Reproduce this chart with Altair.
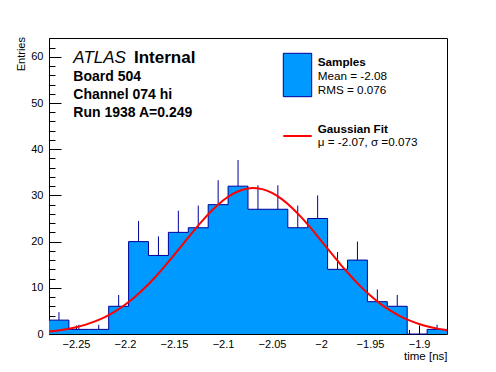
import altair as alt
import pandas as pd
import numpy as np

# ---------------- data ----------------
counts = [3, 1, 1, 6, 20, 17, 22, 23, 28, 32, 27, 27, 23, 25, 14, 16, 7, 6, 0, 1]
x_lo = -2.2775
x_hi = -1.8715
n_bins = 20
y_max = 64.07

curve_x = [-2.28, -2.27, -2.26, -2.25, -2.24, -2.23, -2.22, -2.21, -2.20, -2.19,
           -2.18, -2.17, -2.16, -2.15, -2.14, -2.13, -2.12, -2.11, -2.10, -2.09,
           -2.08, -2.07, -2.06, -2.05, -2.04, -2.03, -2.02, -2.01, -2.00, -1.99,
           -1.98, -1.97, -1.96, -1.95, -1.94, -1.93, -1.92, -1.91, -1.90, -1.89,
           -1.88, -1.87]
curve_y = [0.48, 0.71, 1.03, 1.46, 2.03, 2.78, 3.72, 4.89, 6.32, 8.00,
           9.95, 12.13, 14.53, 17.07, 19.69, 22.29, 24.75, 26.99, 28.88, 30.32,
           31.24, 31.60, 31.36, 30.55, 29.20, 27.40, 25.23, 22.80, 20.22, 17.59,
           15.03, 12.60, 10.36, 8.37, 6.63, 5.16, 3.94, 2.95, 2.17, 1.56,
           1.11, 0.77]

x_major = [-2.25, -2.2, -2.15, -2.1, -2.05, -2.0, -1.95, -1.9]
x_minor = [round(-2.27 + 0.01 * i, 2) for i in range(40)]
y_major = [0, 10, 20, 30, 40, 50, 60]
y_minor = list(range(0, 65, 2))

text_lines = ["Board 504", "Channel 074 hi", "Run 1938 A=0.249"]
legend_lines = ["Samples", "Mean = -2.08", "RMS = 0.076",
                "Gaussian Fit", "\u03bc = -2.07, \u03c3 =0.073"]

# ---------------- tables ----------------
edges = np.linspace(x_lo, x_hi, n_bins + 1)
hist = pd.DataFrame({"lo": edges[:-1], "hi": edges[1:], "count": counts})
hist["center"] = (hist["lo"] + hist["hi"]) / 2
step = pd.DataFrame({"edge": edges, "count": counts + [counts[-1]]})
curve = pd.DataFrame({"x": curve_x, "y": curve_y})
one = pd.DataFrame({"a": [0]})

W, H = 398, 296
FONT = "Liberation Sans"
FILL = "#0099ff"
EDGE = "#000099"

xs = alt.Scale(domain=[x_lo, x_hi], nice=False, zero=False, padding=0)
ys = alt.Scale(domain=[0, y_max], nice=False, zero=True, padding=0)

x_axis_main = alt.Axis(values=x_major, format=".3~g", ticks=False, domain=False,
                       grid=False, labelFont=FONT, labelFontSize=11,
                       labelColor="black", labelPadding=4, labelFlush=False,
                       title="time [ns]", titleFont=FONT, titleFontSize=11.5,
                       titleFontWeight="normal", titleColor="black",
                       titleAlign="right", titleX=W, titleY=25.5,
                       titleBaseline="alphabetic")
y_axis_main = alt.Axis(values=y_major, ticks=False, domain=False, grid=False,
                       labelFont=FONT, labelFontSize=11, labelColor="black",
                       labelPadding=6, title="Entries", titleFont=FONT,
                       titleFontSize=11, titleFontWeight="normal",
                       titleColor="black", titleAngle=-90, titleAlign="right",
                       titleX=-25, titleY=-1.5, titleBaseline="alphabetic")


def tick_axis_x(vals, size):
    return alt.Axis(values=vals, orient="top", offset=-H, tickSize=size,
                    tickColor="black", labels=False, domain=False, grid=False,
                    title=None)


def tick_axis_y(vals, size):
    return alt.Axis(values=vals, orient="right", offset=-W, tickSize=size,
                    tickColor="black", labels=False, domain=False, grid=False,
                    title=None)


# filled histogram (seamless step area)
fill = alt.Chart(step).mark_area(color=FILL, interpolate="step-after").encode(
    x=alt.X("edge:Q", scale=xs, axis=x_axis_main),
    y=alt.Y("count:Q", scale=ys, axis=y_axis_main),
    y2=alt.datum(0),
)

errs = alt.Chart(hist).transform_filter("datum.count > 0").transform_calculate(
    top="datum.count + sqrt(datum.count)"
).mark_rule(color=EDGE, strokeWidth=1).encode(
    x=alt.X("center:Q", scale=xs, axis=tick_axis_x(x_minor, 4.5)),
    y=alt.Y("count:Q", scale=ys, axis=tick_axis_y(y_minor, 6)),
    y2="top:Q",
)

outline = alt.Chart(step).mark_line(color=EDGE, strokeWidth=1,
                                    interpolate="step-after").encode(
    x=alt.X("edge:Q", scale=xs, axis=tick_axis_x(x_major, 9)),
    y=alt.Y("count:Q", scale=ys, axis=tick_axis_y(y_major, 12)),
)

fit = alt.Chart(curve).mark_line(color="#ff0000", strokeWidth=2,
                                 interpolate="monotone", clip=True).encode(
    x=alt.X("x:Q", scale=xs, axis=None),
    y=alt.Y("y:Q", scale=ys, axis=None),
)


def label(txt, x, y, size, weight="normal", style="normal"):
    return alt.Chart(one).mark_text(
        text=txt, font=FONT, fontSize=size, fontWeight=weight, fontStyle=style,
        align="left", baseline="alphabetic", color="black"
    ).encode(x=alt.value(x), y=alt.value(y))


texts = [
    label("ATLAS", 24.3, 24.7, 17, style="italic"),
    label("Internal", 85, 24.7, 17, weight="bold"),
    label(text_lines[0], 24.3, 42.7, 14, weight="bold"),
    label(text_lines[1], 24.3, 61, 14, weight="bold"),
    label(text_lines[2], 24.3, 79.3, 14, weight="bold"),
    label(legend_lines[0], 268.7, 27.5, 11.7, weight="bold"),
    label(legend_lines[1], 268.7, 41.5, 11.7),
    label(legend_lines[2], 268.7, 55.5, 11.7),
    label(legend_lines[3], 268.7, 95, 11.7, weight="bold"),
    label(legend_lines[4], 268.7, 107.5, 11.7),
]

swatch = alt.Chart(one).mark_rect(fill=FILL, stroke=EDGE, strokeWidth=1).encode(
    x=alt.value(234.3), x2=alt.value(262.7), y=alt.value(15.3), y2=alt.value(58.7)
)
redline = alt.Chart(one).mark_rule(color="#ff0000", strokeWidth=2).encode(
    x=alt.value(234.3), x2=alt.value(262.7), y=alt.value(98)
)

chart = alt.layer(fill, errs, outline, fit, swatch, redline, *texts).resolve_axis(
    x="independent", y="independent"
).properties(
    width=W, height=H,
    autosize=alt.AutoSizeParams(type="none"),
    padding={"left": 41, "top": 30, "right": 30, "bottom": 32},
).configure_view(stroke="black", strokeWidth=1)

chart.save("out.html", embed_options={"renderer": "svg", "actions": False})
